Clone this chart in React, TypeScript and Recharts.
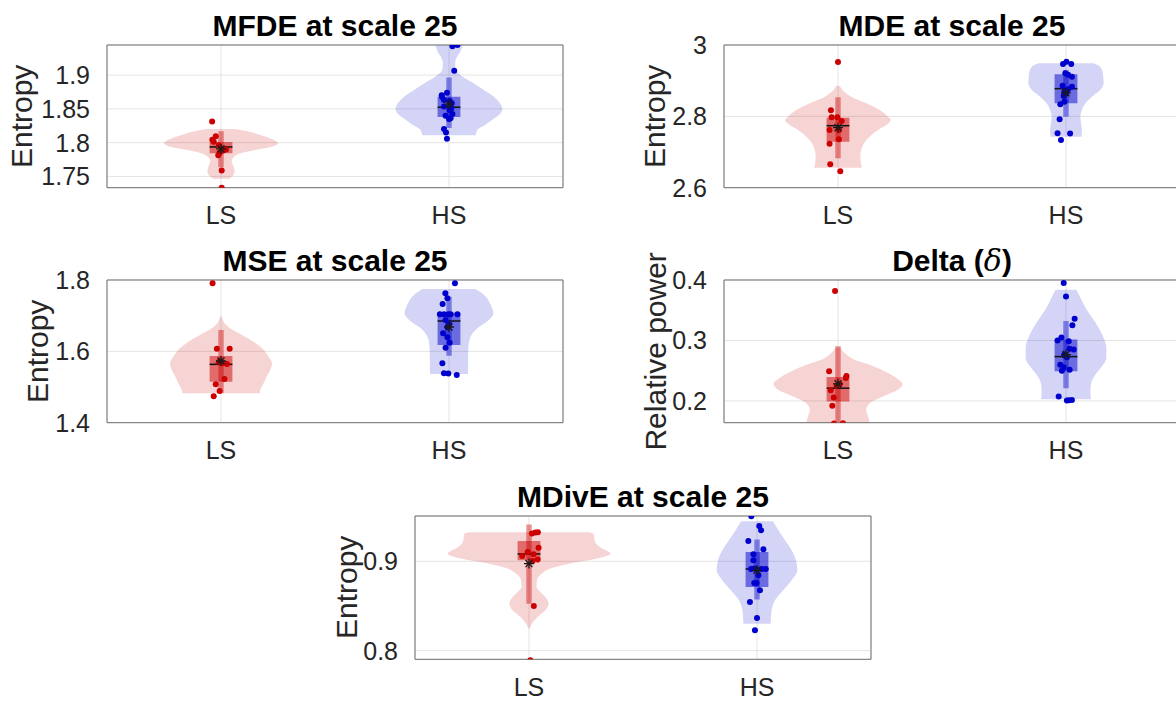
import React from "react";
import {
  ComposedChart,
  Area,
  Scatter,
  XAxis,
  YAxis,
  CartesianGrid,
  ReferenceArea,
  ReferenceLine,
} from "recharts";

const groups = ["LS", "HS"];

// MFDE at scale 25
const mfdeTicks = [1.75, 1.8, 1.85, 1.9];
const mfdeLS = [1.8314, 1.8093, 1.8044, 1.8015, 1.796, 1.7897, 1.7882, 1.7849, 1.7813, 1.7588, 1.7333];
const mfdeLSJitter = [-0.039, -0.023, -0.038, -0.032, -0.01, 0.022, 0.009, -0.006, -0.012, 0.003, 0.003];
const mfdeHS = [1.9446, 1.9427, 1.9063, 1.874, 1.8701, 1.8675, 1.8632, 1.8618, 1.8583, 1.8534, 1.8505, 1.8485, 1.8426, 1.8397, 1.8363, 1.835, 1.8201, 1.8152, 1.8059];
const mfdeHSJitter = [0.037, 0.015, 0.023, -0.009, -0.032, -0.03, -0.022, 0.003, 0.012, -0.022, 0.01, 0.003, 0.015, -0.015, 0.007, 0.0, -0.022, -0.013, -0.009];
// [lower whisker, q1, median, q3, upper whisker, mean]
const mfdeLSBox = [1.7637, 1.7843, 1.7936, 1.801, 1.8167, 1.7907];
const mfdeHSBox = [1.8216, 1.8378, 1.8525, 1.868, 1.8966, 1.857];
// violin outline: [value, half width]
const mfdeLSViolin = [
  [1.8201, 0.06], [1.8165, 0.12], [1.8118, 0.17], [1.8044, 0.23], [1.7995, 0.25], [1.7946, 0.23],
  [1.7897, 0.16], [1.7848, 0.09], [1.7799, 0.06], [1.7725, 0.047], [1.7652, 0.055], [1.7578, 0.06],
  [1.7505, 0.05], [1.7466, 0.035],
];
const mfdeHSViolin = [
  [1.9441, 0.06], [1.9319, 0.045], [1.927, 0.035], [1.9172, 0.027], [1.9074, 0.03], [1.8975, 0.06],
  [1.8877, 0.11], [1.8779, 0.153], [1.8681, 0.197], [1.8583, 0.224], [1.8495, 0.234], [1.8412, 0.22],
  [1.8338, 0.19], [1.8265, 0.16], [1.8191, 0.125], [1.8108, 0.117],
];

// MDE at scale 25
const mdeTicks = [2.6, 2.8, 3];
const mdeLS = [2.9523, 2.8169, 2.7973, 2.7973, 2.787, 2.7617, 2.7617, 2.7356, 2.7233, 2.6655, 2.6459];
const mdeLSJitter = [0.0, -0.031, -0.028, -0.003, 0.016, -0.037, 0.004, 0.004, -0.037, -0.034, 0.01];
const mdeHS = [2.9467, 2.9532, 2.9467, 2.9206, 2.9168, 2.9112, 2.886, 2.8832, 2.8757, 2.8692, 2.8645, 2.857, 2.841, 2.8337, 2.7916, 2.7523, 2.752, 2.7337];
const mdeHSJitter = [-0.013, 0.002, 0.023, -0.003, 0.009, 0.026, -0.015, 0.026, 0.009, -0.007, 0.0, -0.01, -0.007, -0.025, -0.028, -0.037, 0.018, -0.022];
const mdeLSBox = [2.6823, 2.7289, 2.7738, 2.7962, 2.8533, 2.7682];
const mdeHSBox = [2.799, 2.8364, 2.8776, 2.9178, 2.93, 2.866];
const mdeLSViolin = [
  [2.885, 0.008], [2.8738, 0.02], [2.855, 0.058], [2.8365, 0.124], [2.8178, 0.183], [2.799, 0.219],
  [2.7897, 0.232], [2.7757, 0.212], [2.7617, 0.175], [2.743, 0.139], [2.7244, 0.114], [2.7057, 0.102],
  [2.687, 0.098], [2.67, 0.1], [2.656, 0.105],
];
const mdeHSViolin = [
  [2.9486, 0.12], [2.9393, 0.15], [2.9206, 0.162], [2.8926, 0.165], [2.8738, 0.15], [2.855, 0.114],
  [2.8365, 0.085], [2.8178, 0.07], [2.799, 0.063], [2.7804, 0.066], [2.7617, 0.07], [2.743, 0.068],
];

// MSE at scale 25
const mseTicks = [1.4, 1.6, 1.8];
const mseLS = [1.7907, 1.6075, 1.6075, 1.5729, 1.5692, 1.5664, 1.5645, 1.5224, 1.5075, 1.4888, 1.4738];
const mseLSJitter = [-0.037, -0.018, 0.038, -0.005, -0.01, 0.004, 0.026, 0.015, -0.023, -0.006, -0.032];
const mseHS = [1.7907, 1.7626, 1.7486, 1.7327, 1.7037, 1.7037, 1.7037, 1.7037, 1.7037, 1.6879, 1.6757, 1.6673, 1.6505, 1.6393, 1.6243, 1.6103, 1.5664, 1.5383, 1.538, 1.5337];
const mseHSJitter = [0.026, -0.016, -0.007, -0.028, -0.04, -0.022, -0.003, 0.007, 0.037, -0.015, 0.0, -0.007, -0.026, -0.007, 0.003, -0.015, -0.029, -0.022, -0.003, 0.034];
const mseLSBox = [1.4823, 1.5149, 1.5636, 1.5869, 1.6598, 1.5729];
const mseHSBox = [1.5878, 1.6178, 1.685, 1.7084, 1.7533, 1.6683];
const mseLSViolin = [
  [1.6971, 0.004], [1.6831, 0.012], [1.6645, 0.04], [1.6458, 0.092], [1.6271, 0.143], [1.6084, 0.18],
  [1.585, 0.209], [1.5664, 0.224], [1.5477, 0.216], [1.529, 0.2], [1.5103, 0.187], [1.4916, 0.172],
  [1.4823, 0.17],
];
const mseHSViolin = [
  [1.7748, 0.117], [1.758, 0.154], [1.7299, 0.183], [1.7066, 0.195], [1.6879, 0.175], [1.6645, 0.124],
  [1.6364, 0.092], [1.6084, 0.085], [1.5804, 0.084], [1.5523, 0.084], [1.5364, 0.083],
];

// Delta relative power
const deltaTicks = [0.2, 0.3, 0.4];
const deltaLS = [0.3817, 0.2489, 0.2411, 0.2378, 0.228, 0.225, 0.2178, 0.2056, 0.1922, 0.1628, 0.163];
const deltaLSJitter = [-0.013, -0.039, 0.037, 0.034, 0.008, -0.006, -0.032, -0.019, -0.025, -0.018, 0.022];
const deltaHS = [0.395, 0.3728, 0.3361, 0.325, 0.305, 0.3, 0.2989, 0.2861, 0.285, 0.2767, 0.2722, 0.26, 0.2556, 0.25, 0.2517, 0.2072, 0.2006, 0.2011, 0.2017];
const deltaHSJitter = [-0.01, 0.0, 0.038, 0.028, -0.02, -0.037, 0.012, 0.016, 0.034, -0.007, 0.004, -0.025, -0.01, -0.018, 0.016, -0.032, 0.004, 0.012, 0.026];
const deltaLSBox = [0.164, 0.1989, 0.2211, 0.2394, 0.2906, 0.2283];
const deltaHSBox = [0.2211, 0.2489, 0.2733, 0.3017, 0.3322, 0.2767];
const deltaLSViolin = [
  [0.288, 0.01], [0.2794, 0.03], [0.2683, 0.073], [0.26, 0.139], [0.2489, 0.205], [0.2378, 0.256],
  [0.2278, 0.283], [0.2183, 0.263], [0.2072, 0.197], [0.1961, 0.139], [0.185, 0.124], [0.1739, 0.132],
  [0.164, 0.139],
];
const deltaHSViolin = [
  [0.3839, 0.045], [0.3711, 0.063], [0.3544, 0.085], [0.3378, 0.114], [0.3211, 0.143], [0.3044, 0.165],
  [0.2878, 0.177], [0.2711, 0.177], [0.2572, 0.158], [0.2433, 0.129], [0.2294, 0.11], [0.2156, 0.107],
  [0.2028, 0.109],
];

// MDivE at scale 25
const mdiveTicks = [0.8, 0.9];
const mdiveLS = [0.9325, 0.9321, 0.931, 0.9153, 0.9104, 0.908, 0.906, 0.9019, 0.9004, 0.85, 0.7891];
const mdiveLSJitter = [0.039, 0.028, 0.013, 0.042, -0.006, 0.02, -0.03, 0.038, 0.016, 0.021, 0.006];
const mdiveHS = [0.9504, 0.9395, 0.9347, 0.9228, 0.9134, 0.9078, 0.9011, 0.8914, 0.8918, 0.8907, 0.8914, 0.8914, 0.8843, 0.8757, 0.8757, 0.8675, 0.8545, 0.8365, 0.8227];
const mdiveHSJitter = [-0.025, 0.01, 0.018, -0.038, 0.028, -0.016, -0.016, -0.026, -0.012, -0.002, 0.02, 0.038, 0.006, -0.002, -0.012, 0.013, -0.031, 0.0, -0.009];
const mdiveLSBox = [0.8526, 0.9011, 0.9082, 0.9228, 0.9411, 0.8974];
const mdiveHSBox = [0.8571, 0.8712, 0.8914, 0.9104, 0.9243, 0.8899];
const mdiveLSViolin = [
  [0.9325, 0.26], [0.931, 0.283], [0.9216, 0.29], [0.916, 0.31], [0.9086, 0.357], [0.903, 0.3],
  [0.8974, 0.181], [0.8918, 0.094], [0.8862, 0.057], [0.8787, 0.035], [0.8712, 0.033], [0.8656, 0.05],
  [0.86, 0.072], [0.8526, 0.086], [0.8451, 0.072], [0.8376, 0.038], [0.8302, 0.013], [0.8246, 0.002],
];
const mdiveHSViolin = [
  [0.9448, 0.07], [0.9347, 0.094], [0.9235, 0.123], [0.9123, 0.152], [0.9011, 0.171], [0.8899, 0.177],
  [0.8787, 0.152], [0.8675, 0.115], [0.8563, 0.079], [0.8451, 0.064], [0.8358, 0.061], [0.8302, 0.06],
];

const COLORS = ["#cc0000", "#0000cc"];
const FONT = '"Liberation Sans", Arial, Helvetica, sans-serif';
const TEXT = "#262626";
const PLOT_W = 456;
const BOX_HW = 0.05;
const WHISKER_HW = 0.012;

const panels = [
  {
    title: "MFDE at scale 25", yLabel: "Entropy", left: 107, top: 45, height: 142.7, labelOffset: 75,
    domain: [1.7333, 1.9446], ticks: mfdeTicks,
    series: [
      { values: mfdeLS, jitter: mfdeLSJitter, box: mfdeLSBox, violin: mfdeLSViolin },
      { values: mfdeHS, jitter: mfdeHSJitter, box: mfdeHSBox, violin: mfdeHSViolin },
    ],
  },
  {
    title: "MDE at scale 25", yLabel: "Entropy", left: 724, top: 45, height: 142.7, labelOffset: 59,
    domain: [2.6, 3.0], ticks: mdeTicks,
    series: [
      { values: mdeLS, jitter: mdeLSJitter, box: mdeLSBox, violin: mdeLSViolin },
      { values: mdeHS, jitter: mdeHSJitter, box: mdeHSBox, violin: mdeHSViolin },
    ],
  },
  {
    title: "MSE at scale 25", yLabel: "Entropy", left: 107, top: 280, height: 142.7, labelOffset: 59,
    domain: [1.4, 1.8], ticks: mseTicks,
    series: [
      { values: mseLS, jitter: mseLSJitter, box: mseLSBox, violin: mseLSViolin },
      { values: mseHS, jitter: mseHSJitter, box: mseHSBox, violin: mseHSViolin },
    ],
  },
  {
    title: "Delta (", symbol: "δ", titleEnd: ")", yLabel: "Relative power", left: 724, top: 280, height: 142.7, labelOffset: 58,
    domain: [0.164, 0.4], ticks: deltaTicks,
    series: [
      { values: deltaLS, jitter: deltaLSJitter, box: deltaLSBox, violin: deltaLSViolin },
      { values: deltaHS, jitter: deltaHSJitter, box: deltaHSBox, violin: deltaHSViolin },
    ],
  },
  {
    title: "MDivE at scale 25", yLabel: "Entropy", left: 415, top: 515.7, height: 143.3, labelOffset: 58,
    domain: [0.7903, 0.9507], ticks: mdiveTicks,
    series: [
      { values: mdiveLS, jitter: mdiveLSJitter, box: mdiveLSBox, violin: mdiveLSViolin },
      { values: mdiveHS, jitter: mdiveHSJitter, box: mdiveHSBox, violin: mdiveHSViolin },
    ],
  },
];

function Asterisk(props: any) {
  const { cx, cy } = props;
  if (cx == null || cy == null) return null;
  const r = 5;
  const d = r * 0.7071;
  return (
    <g stroke="#1a1a1a" strokeWidth={1.3}>
      <line x1={cx - r} y1={cy} x2={cx + r} y2={cy} />
      <line x1={cx} y1={cy - r} x2={cx} y2={cy + r} />
      <line x1={cx - d} y1={cy - d} x2={cx + d} y2={cy + d} />
      <line x1={cx - d} y1={cy + d} x2={cx + d} y2={cy - d} />
    </g>
  );
}

function dotShape(color: string) {
  return (props: any) => {
    if (props.cx == null || props.cy == null) return null;
    return <circle cx={props.cx} cy={props.cy} r={3} fill={color} />;
  };
}

function Panel({ p }: { p: any }) {
  const marginL = 40;
  const axisW = 60;
  const marginT = 40;
  const axisH = 30;
  const marginB = 30;
  const marginR = 20;
  const width = marginL + axisW + PLOT_W + marginR;
  const height = marginT + p.height + axisH + marginB;

  const items: React.ReactElement[] = [];
  p.series.forEach((s: any, i: number) => {
    const pos = i + 1;
    const color = COLORS[i];
    const violin = s.violin.map(([v, hw]: number[]) => ({ v, r: [pos - hw, pos + hw] }));
    items.push(
      <Area
        key={`violin-${i}`}
        data={violin}
        dataKey="r"
        type="monotone"
        stroke="none"
        fill={color}
        fillOpacity={0.17}
        isAnimationActive={false}
      />
    );
  });
  p.series.forEach((s: any, i: number) => {
    const pos = i + 1;
    const color = COLORS[i];
    const [wLo, q1, med, q3, wHi] = s.box;
    items.push(
      <ReferenceArea
        key={`whisker-${i}`}
        x1={pos - WHISKER_HW}
        x2={pos + WHISKER_HW}
        y1={wLo}
        y2={wHi}
        fill={color}
        fillOpacity={0.42}
        stroke="none"
        ifOverflow="hidden"
      />
    );
    items.push(
      <ReferenceArea
        key={`box-${i}`}
        x1={pos - BOX_HW}
        x2={pos + BOX_HW}
        y1={q1}
        y2={q3}
        fill={color}
        fillOpacity={0.5}
        stroke="none"
        ifOverflow="hidden"
      />
    );
    items.push(
      <ReferenceLine
        key={`median-${i}`}
        segment={[{ x: pos - BOX_HW, y: med }, { x: pos + BOX_HW, y: med }]}
        stroke="#111"
        strokeWidth={1.5}
        ifOverflow="visible"
      />
    );
  });
  p.series.forEach((s: any, i: number) => {
    const pos = i + 1;
    const pts = s.values.map((v: number, k: number) => ({ x: pos + s.jitter[k], v }));
    items.push(
      <Scatter
        key={`pts-${i}`}
        data={pts}
        shape={dotShape(COLORS[i])}
        isAnimationActive={false}
      />
    );
  });
  p.series.forEach((s: any, i: number) => {
    const pos = i + 1;
    items.push(
      <Scatter
        key={`mean-${i}`}
        data={[{ x: pos, v: s.box[5] }]}
        shape={Asterisk}
        isAnimationActive={false}
      />
    );
  });

  return (
    <div style={{ position: "absolute", left: p.left - marginL - axisW, top: p.top - marginT }}>
      <ComposedChart
        width={width}
        height={height}
        layout="vertical"
        margin={{ top: marginT, left: marginL, right: marginR, bottom: marginB }}
      >
        <CartesianGrid stroke="#e4e4e4" strokeWidth={1} />
        <XAxis
          type="number"
          dataKey="x"
          domain={[0.5, 2.5]}
          allowDataOverflow
          ticks={[1, 2]}
          interval={0}
          tickFormatter={(t: number) => groups[t - 1]}
          axisLine={false}
          tickLine={false}
          tickSize={0}
          tickMargin={19}
          height={axisH}
          tick={{ fontSize: 25, fill: TEXT, fontFamily: FONT }}
        />
        <YAxis
          type="number"
          dataKey="v"
          domain={p.domain}
          allowDataOverflow
          reversed
          ticks={p.ticks}
          interval={0}
          tickFormatter={(t: number) => String(t)}
          axisLine={false}
          tickLine={false}
          tickSize={0}
          tickMargin={17}
          width={axisW}
          tick={{ fontSize: 25, fill: TEXT, fontFamily: FONT }}
        />
        {items}
        <ReferenceArea
          x1={0.5}
          x2={2.5}
          y1={p.domain[0]}
          y2={p.domain[1]}
          fill="none"
          stroke="#6e6e6e"
          strokeWidth={1}
          ifOverflow="visible"
        />
      </ComposedChart>
    </div>
  );
}

export default function App() {
  return (
    <div
      style={{
        position: "absolute",
        left: 0,
        top: 0,
        width: 1176,
        height: 701,
        overflow: "hidden",
        background: "#fff",
        fontFamily: FONT,
      }}
    >
      {panels.map((p, i) => (
        <Panel key={i} p={p} />
      ))}
      <svg
        width={1176}
        height={701}
        style={{ position: "absolute", left: 0, top: 0, pointerEvents: "none" }}
      >
        {panels.map((p: any, i) => {
          const cx = p.left + PLOT_W / 2;
          const lx = p.left - p.labelOffset;
          const ly = p.top + p.height / 2;
          return (
            <g key={i} fontFamily={FONT}>
              <text x={cx} y={p.top - 9} textAnchor="middle" fontSize={30} fontWeight="bold" fill="#000">
                {p.title}
                {p.symbol ? (
                  <tspan fontStyle="italic" fontWeight="normal" fontFamily='"DejaVu Serif", serif'>
                    {p.symbol}
                  </tspan>
                ) : null}
                {p.titleEnd ?? null}
              </text>
              <text
                x={lx}
                y={ly}
                transform={`rotate(-90 ${lx} ${ly})`}
                textAnchor="middle"
                fontSize={30}
                fill={TEXT}
              >
                {p.yLabel}
              </text>
            </g>
          );
        })}
      </svg>
    </div>
  );
}
